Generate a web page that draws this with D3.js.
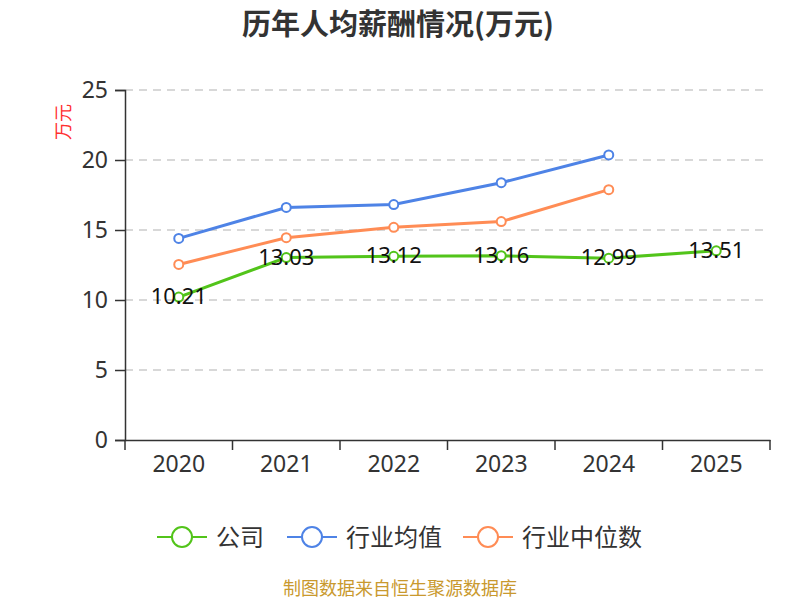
<!DOCTYPE html>
<html>
<head>
<meta charset="utf-8">
<script src="https://cdn.jsdelivr.net/npm/d3@7"></script>
<style>
  body { margin: 0; background: #fff; }
  text { font-family: "Noto Sans CJK SC", "Noto Sans", sans-serif; }
</style>
</head>
<body>
<div id="chart"></div>
<script>
var years = ["2020", "2021", "2022", "2023", "2024", "2025"];
var companyValues = [10.21, 13.03, 13.12, 13.16, 12.99, 13.51];
var industryAvg = [14.40, 16.61, 16.82, 18.38, 20.36, null];
var industryMedian = [12.54, 14.45, 15.19, 15.60, 17.88, null];
var yTicks = [0, 5, 10, 15, 20, 25];
var seriesNames = ["公司", "行业均值", "行业中位数"];

var colors = {
  company: "#52c41a",
  avg: "#4e83e6",
  median: "#ff8c55",
  axis: "#333",
  grid: "#cccccc"
};

var dim = {
  width: 800,
  height: 600,
  left: 125,
  right: 770,
  top: 90,
  bottom: 440
};

var svg = d3.select("#chart").append("svg")
  .attr("width", dim.width)
  .attr("height", dim.height);

var x = d3.scaleBand().domain(years).range([dim.left, dim.right]);
var y = d3.scaleLinear().domain([0, 25]).range([dim.bottom, dim.top]);

// title
svg.append("text")
  .attr("x", 398)
  .attr("y", 35)
  .attr("text-anchor", "middle")
  .style("font-size", "29px")
  .style("font-weight", "bold")
  .style("fill", "#333")
  .text("历年人均薪酬情况(万元)");

// unit label
svg.append("text")
  .attr("transform", "translate(70,122) rotate(-90)")
  .attr("text-anchor", "middle")
  .style("font-size", "18px")
  .style("fill", "#ff3030")
  .text("万元");

// grid lines
svg.append("g").selectAll("line")
  .data(yTicks.filter(function(d) { return d > 0; }))
  .enter().append("line")
  .attr("x1", dim.left)
  .attr("x2", dim.right - 2)
  .attr("y1", function(d) { return y(d); })
  .attr("y2", function(d) { return y(d); })
  .attr("stroke", colors.grid)
  .attr("stroke-width", 1.5)
  .attr("stroke-dasharray", "8,6");

// y axis
var yAxis = svg.append("g")
  .attr("transform", "translate(" + dim.left + ",0)")
  .call(d3.axisLeft(y).tickValues(yTicks).tickSize(10).tickPadding(7));
yAxis.select(".domain").attr("stroke", colors.axis).attr("stroke-width", 1.5);
yAxis.selectAll(".tick line").attr("stroke", colors.axis).attr("stroke-width", 1.5);
yAxis.selectAll(".tick text")
  .style("font-size", "23px")
  .style("fill", "#333")
  .style("font-family", "'Noto Sans', sans-serif");

// x axis
var xAxis = svg.append("g")
  .attr("transform", "translate(0," + dim.bottom + ")")
  .call(d3.axisBottom(x).tickSize(0).tickPadding(16));
xAxis.select(".domain").attr("stroke", colors.axis).attr("stroke-width", 1.5);
xAxis.selectAll(".tick text")
  .style("font-size", "23px")
  .style("fill", "#333")
  .style("font-family", "'Noto Sans', sans-serif");
// band boundary ticks
var bounds = years.map(function(d) { return x(d); }).concat([x.range()[1]]);
xAxis.selectAll(".bound")
  .data(bounds)
  .enter().append("line")
  .attr("x1", function(d) { return d; })
  .attr("x2", function(d) { return d; })
  .attr("y1", 0)
  .attr("y2", 10)
  .attr("stroke", colors.axis)
  .attr("stroke-width", 1.5);

var cx = function(d, i) { return x(years[i]) + x.bandwidth() / 2; };

function drawSeries(values, color) {
  var line = d3.line()
    .defined(function(d) { return d != null; })
    .x(function(d, i) { return cx(d, i); })
    .y(function(d) { return y(d); });
  svg.append("path")
    .datum(values)
    .attr("d", line)
    .attr("fill", "none")
    .attr("stroke", color)
    .attr("stroke-width", 3);
  svg.append("g").selectAll("circle")
    .data(values)
    .enter().filter(function(d) { return d != null; })
    .append("circle")
    .attr("cx", function(d) { return cx(d, values.indexOf(d)); })
    .attr("cy", function(d) { return y(d); })
    .attr("r", 4.5)
    .attr("fill", "#fff")
    .attr("stroke", color)
    .attr("stroke-width", 2);
}

drawSeries(industryAvg, colors.avg);
drawSeries(industryMedian, colors.median);
drawSeries(companyValues, colors.company);

// value labels for company
svg.append("g").selectAll("text")
  .data(companyValues)
  .enter().append("text")
  .attr("x", function(d, i) { return cx(d, i); })
  .attr("y", function(d) { return y(d) + 7; })
  .attr("text-anchor", "middle")
  .style("font-size", "22px")
  .style("fill", "#111")
  .style("font-family", "'Noto Sans', sans-serif")
  .text(function(d) { return d.toFixed(2); });

// legend
var legendColors = [colors.company, colors.avg, colors.median];
var legendX = [157, 287, 463];
var legendY = 537;
var lg = svg.append("g").selectAll("g")
  .data(seriesNames)
  .enter().append("g")
  .attr("transform", function(d, i) { return "translate(" + legendX[i] + "," + legendY + ")"; });
lg.append("line")
  .attr("x1", 0).attr("x2", 50)
  .attr("y1", 0).attr("y2", 0)
  .attr("stroke", function(d, i) { return legendColors[i]; })
  .attr("stroke-width", 2);
lg.append("circle")
  .attr("cx", 25).attr("cy", 0).attr("r", 10)
  .attr("fill", "#fff")
  .attr("stroke", function(d, i) { return legendColors[i]; })
  .attr("stroke-width", 2);
lg.append("text")
  .attr("x", 59)
  .attr("y", 9)
  .style("font-size", "24px")
  .style("fill", "#333")
  .text(function(d) { return d; });

// source
svg.append("text")
  .attr("x", 400)
  .attr("y", 595)
  .attr("text-anchor", "middle")
  .style("font-size", "18px")
  .style("fill", "#c9992e")
  .text("制图数据来自恒生聚源数据库");
</script>
</body>
</html>
